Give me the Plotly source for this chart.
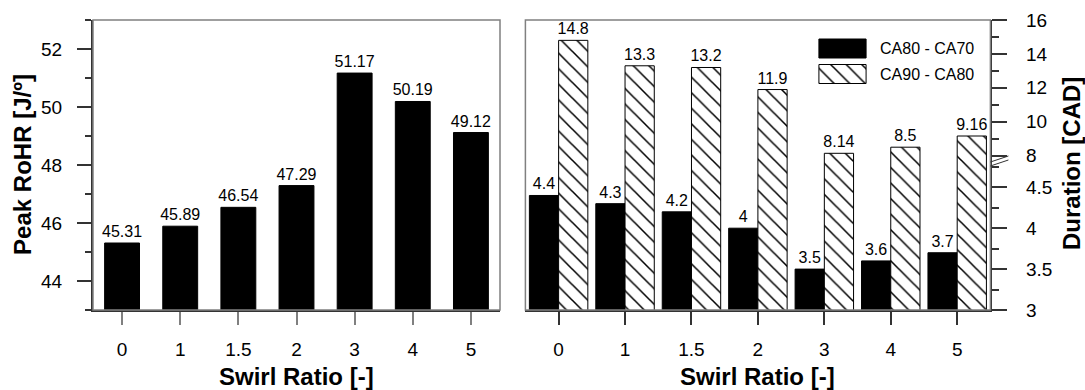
import plotly.graph_objects as go

# ---- data -------------------------------------------------------------
swirl_ratio = ["0", "1", "1.5", "2", "3", "4", "5"]
peak_rohr = [45.31, 45.89, 46.54, 47.29, 51.17, 50.19, 49.12]   # J/deg
ca80_ca70 = [4.4, 4.3, 4.2, 4, 3.5, 3.6, 3.7]                   # CAD
ca90_ca80 = [14.8, 13.3, 13.2, 11.9, 8.14, 8.5, 9.16]            # CAD
series_names = ["CA80 - CA70", "CA90 - CA80"]

rohr_ticks = [44, 46, 48, 50, 52]
low_ticks = [3, 3.5, 4, 4.5]
high_ticks = [8, 10, 12, 14, 16]

# ---- layout helpers (pixel -> paper) ---------------------------------
W, H = 1085, 390
FONT = "Liberation Sans, Arial, sans-serif"
DARK = "#333333"
GREY = "#808080"


def px(x):
    return x / W


def py(y):
    return 1 - y / H


L_X0, L_X1 = 93, 500          # left panel
R_X0, R_X1 = 525.4, 990.4     # right panel
TOP, BOT = 20, 310
LOW_TOP, UP_BOT = 160, 161    # broken axis: segments overlap by one pixel
LOW_SCALE = 81.8              # px per CAD, lower segment
HIGH_SCALE = 16.96            # px per CAD, upper segment
low_range = [3, 3 + (BOT - LOW_TOP) / LOW_SCALE]
high_range = [16 - (UP_BOT - TOP) / HIGH_SCALE, 16]

# hatch tile height is size*sqrt(2); with size 11 the gap between the two
# segment origins (140 px) is a whole number of tiles, so lines stay continuous
hatch = dict(shape="\\", size=11, solidity=0.14, fgcolor="black",
             bgcolor="white", fillmode="replace")
label_font = dict(family=FONT, size=16, color="black")

fig = go.Figure()

# left panel: peak rate of heat release
fig.add_trace(go.Bar(
    x=swirl_ratio, y=peak_rohr, xaxis="x", yaxis="y", width=0.6,
    marker=dict(color="black", line=dict(color="black", width=1)),
    texttemplate="%{y}", textposition="outside", constraintext="none",
    textfont=label_font, outsidetextfont=label_font, cliponaxis=False,
))

# right panel, lower segment of the broken axis
fig.add_trace(go.Bar(
    x=swirl_ratio, y=ca80_ca70, xaxis="x2", yaxis="y2", width=0.44, offset=-0.44,
    name=series_names[0],
    marker=dict(color="black", line=dict(color="black", width=1)),
    texttemplate="%{y}", textposition="outside", constraintext="none",
    textfont=label_font, outsidetextfont=label_font,
))
fig.add_trace(go.Bar(
    x=swirl_ratio, y=ca90_ca80, xaxis="x2", yaxis="y2", width=0.44, offset=0,
    name=series_names[1],
    marker=dict(color="white", pattern=hatch, line=dict(color="black", width=1)),
))
# right panel, upper segment of the broken axis
fig.add_trace(go.Bar(
    x=swirl_ratio, y=ca90_ca80, xaxis="x2", yaxis="y3", width=0.44, offset=0,
    name=series_names[1],
    marker=dict(color="white", pattern=hatch, line=dict(color="black", width=1)),
    texttemplate="%{y}", textposition="outside", constraintext="none",
    textfont=label_font, outsidetextfont=label_font,
))

# legend swatches
fig.add_trace(go.Bar(
    y=[series_names[0]], x=[1], orientation="h", xaxis="x4", yaxis="y4", width=0.745,
    marker=dict(color="black", line=dict(color="black", width=1)),
))
fig.add_trace(go.Bar(
    y=[series_names[1]], x=[1], orientation="h", xaxis="x4", yaxis="y4", width=0.745,
    marker=dict(color="white", pattern=hatch, line=dict(color="black", width=1)),
))

tick_font = dict(family=FONT, size=19, color="black")

fig.update_layout(
    width=W, height=H,
    margin=dict(l=0, r=0, t=0, b=0, autoexpand=False),
    paper_bgcolor="white", plot_bgcolor="white",
    showlegend=False, barmode="overlay",
    font=dict(family=FONT, color="black"),
    xaxis=dict(
        domain=[px(L_X0), px(L_X1)], anchor="y", type="category",
        categoryorder="array", categoryarray=swirl_ratio, range=[-0.5, 6.5],
        showline=True, linecolor=DARK, linewidth=1.5,
        ticks="outside", ticklen=13, tickwidth=1.5, tickcolor=GREY,
        ticklabelstandoff=8, automargin=False,
        tickfont=tick_font, showgrid=False, zeroline=False,
    ),
    yaxis=dict(
        domain=[py(BOT), py(TOP)], anchor="x", range=[43, 53],
        tickvals=rohr_ticks, showline=True, linecolor=DARK, linewidth=2,
        ticks="outside", ticklen=14, tickwidth=1.5, tickcolor=DARK,
        minor=dict(dtick=1, ticks="outside", ticklen=6, tickcolor=DARK, tickwidth=1.5),
        ticklabelstandoff=11, automargin=False,
        tickfont=tick_font, showgrid=False, zeroline=False,
    ),
    xaxis2=dict(
        domain=[px(R_X0), px(R_X1)], anchor="y2", type="category",
        categoryorder="array", categoryarray=swirl_ratio, range=[-0.5, 6.5],
        showline=True, linecolor=DARK, linewidth=1.5,
        ticks="outside", ticklen=13, tickwidth=1.5, tickcolor=DARK,
        ticklabelstandoff=8, automargin=False,
        tickfont=tick_font, showgrid=False, zeroline=False,
    ),
    yaxis2=dict(
        domain=[py(BOT), py(LOW_TOP)], anchor="x2", side="right", range=low_range,
        tickvals=low_ticks, showline=True, linecolor=DARK, linewidth=1.5,
        ticks="outside", ticklen=15, tickwidth=1.5, tickcolor=DARK,
        minor=dict(dtick=0.25, ticks="outside", ticklen=7, tickcolor=DARK, tickwidth=1.5),
        ticklabelstandoff=15, automargin=False,
        tickfont=tick_font, showgrid=False, zeroline=False,
    ),
    yaxis3=dict(
        domain=[py(UP_BOT), py(TOP)], anchor="x2", side="right", range=high_range,
        tickvals=high_ticks, showline=True, linecolor=DARK, linewidth=1.5,
        ticks="outside", ticklen=15, tickwidth=1.5, tickcolor=DARK,
        minor=dict(dtick=1, ticks="outside", ticklen=7, tickcolor=DARK, tickwidth=1.5),
        ticklabelstandoff=15, automargin=False,
        tickfont=tick_font, showgrid=False, zeroline=False,
    ),
    xaxis4=dict(domain=[px(817.5), px(867.5)], anchor="y4", range=[-0.03, 1.03],
                visible=False, fixedrange=True, automargin=False),
    yaxis4=dict(domain=[py(86.75), py(35.75)], anchor="x4", type="category",
                categoryorder="array", categoryarray=series_names,
                range=[1.5, -0.5], visible=False, fixedrange=True, automargin=False),
)

# panel frames and the axis-break mark
BRK = (LOW_TOP + UP_BOT) / 2 + 1.5
shapes = [
    dict(type="rect", xref="paper", yref="paper",
         x0=px(L_X0), x1=px(L_X1), y0=py(BOT), y1=py(TOP),
         line=dict(color=GREY, width=1.5), layer="above"),
    dict(type="rect", xref="paper", yref="paper",
         x0=px(R_X0), x1=px(R_X1), y0=py(BOT), y1=py(TOP),
         line=dict(color=GREY, width=1.5), layer="above"),
    dict(type="line", xref="paper", yref="paper",
         x0=px(R_X1), x1=px(R_X1 + 18), y0=py(BRK + 4), y1=py(BRK - 2),
         line=dict(color=DARK, width=1)),
    dict(type="line", xref="paper", yref="paper",
         x0=px(R_X1), x1=px(R_X1 + 18), y0=py(BRK), y1=py(BRK - 6),
         line=dict(color=DARK, width=1)),
]
fig.update_layout(shapes=shapes)

title_font = dict(family=FONT, size=24, color="black")
annotations = [
    dict(text="<b>Peak RoHR [J/º]</b>", x=px(22.4), y=py(164.5), textangle=-90,
         font=title_font),
    dict(text="<b>Swirl Ratio [-]</b>", x=px((L_X0 + L_X1) / 2), y=py(376),
         font=title_font),
    dict(text="<b>Swirl Ratio [-]</b>", x=px((R_X0 + R_X1) / 2), y=py(376),
         font=title_font),
    dict(text="<b>Duration [CAD]</b>", x=px(1071), y=py(164), textangle=-90,
         font=title_font),
    dict(text=series_names[0], x=px(878), y=py(48.5), xanchor="left",
         font=dict(family=FONT, size=16, color="black")),
    dict(text=series_names[1], x=px(878), y=py(74), xanchor="left",
         font=dict(family=FONT, size=16, color="black")),
]
for a in annotations:
    a.update(xref="paper", yref="paper", showarrow=False)
    a.setdefault("xanchor", "center")
    a.setdefault("yanchor", "middle")
fig.update_layout(annotations=annotations)

fig.write_html("out.html")
